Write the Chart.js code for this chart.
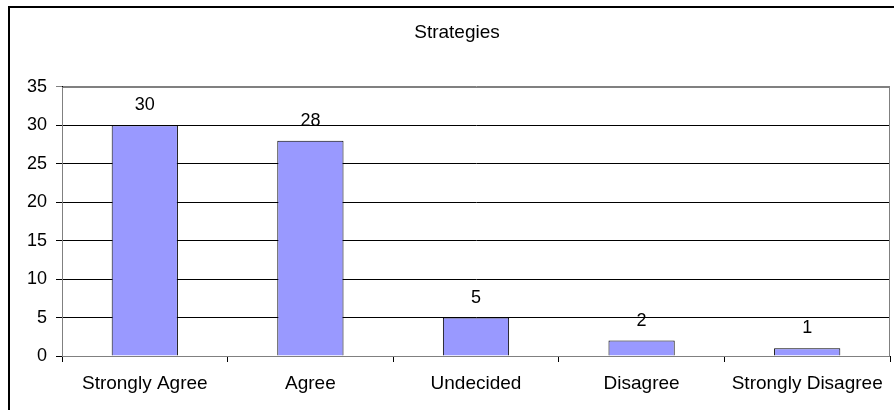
<!DOCTYPE html>
<html>
<head>
<meta charset="utf-8">
<script src="https://cdn.jsdelivr.net/npm/chart.js@4"></script>
<style>
  html, body { margin: 0; padding: 0; background: #fff; overflow: hidden; }
  #wrap { position: relative; width: 894px; height: 410px; overflow: hidden; background: #fff; }
  #frame { position: absolute; left: 8px; top: 6px; width: 1000px; height: 1000px;
           border: 2px solid #000; box-sizing: border-box; pointer-events: none; }
  canvas { position: absolute; left: 0; top: 0; }
</style>
</head>
<body>
<div id="wrap">
  <canvas id="chart" width="894" height="410"></canvas>
  <div id="frame"></div>
</div>
<script>
const categories = ['Strongly Agree', 'Agree', 'Undecided', 'Disagree', 'Strongly Disagree'];
const responses = [30, 28, 5, 2, 1];
const yMax = 35;
const yStep = 5;

const FONT = 'Liberation Sans, Arial, Helvetica, sans-serif';

// Gray outline around the plot area, drawn beneath the bars and axes
const plotFrame = {
  id: 'plotFrame',
  beforeDatasetsDraw(chart) {
    const { ctx, chartArea: a } = chart;
    ctx.save();
    ctx.strokeStyle = '#808080';
    ctx.lineWidth = 1;
    ctx.strokeRect(Math.round(a.left) + 0.5, Math.round(a.top) + 0.5,
                   Math.round(a.right - a.left) - 1, Math.round(a.bottom - a.top));
    ctx.restore();
  }
};

// Value labels above each bar
const valueLabels = {
  id: 'valueLabels',
  afterDatasetsDraw(chart) {
    const { ctx } = chart;
    ctx.save();
    ctx.fillStyle = '#000';
    ctx.font = '18px ' + FONT;
    ctx.textAlign = 'center';
    ctx.textBaseline = 'middle';
    chart.getDatasetMeta(0).data.forEach((bar, i) => {
      ctx.fillText(String(chart.data.datasets[0].data[i]), bar.x, bar.y - 20);
    });
    ctx.restore();
  }
};

new Chart(document.getElementById('chart'), {
  type: 'bar',
  data: {
    labels: categories,
    datasets: [{
      data: responses,
      backgroundColor: '#9999FF',
      borderColor: '#000',
      borderWidth: 1,
      categoryPercentage: 1,
      barPercentage: 0.4
    }]
  },
  options: {
    responsive: false,
    animation: false,
    devicePixelRatio: 1,
    layout: { padding: { left: 24, right: 4, top: 0, bottom: 0 } },
    plugins: {
      legend: { display: false },
      tooltip: { enabled: false },
      title: {
        display: true,
        text: 'Strategies',
        color: '#000',
        font: { family: FONT, size: 19, weight: 'normal' },
        padding: { top: 21, bottom: 43 }
      }
    },
    scales: {
      x: {
        grid: { drawOnChartArea: false, drawTicks: true, tickLength: 6, color: '#000', offset: true },
        border: { color: '#000', width: 1 },
        ticks: { color: '#000', font: { family: FONT, size: 19 }, padding: 10, maxRotation: 0, autoSkip: false },
        afterFit(scale) { scale.height = 54; }
      },
      y: {
        min: 0,
        max: yMax,
        ticks: { stepSize: yStep, color: '#000', font: { family: FONT, size: 18 }, padding: 9 },
        grid: {
          color: ctx => (ctx.tick && ctx.tick.value === yMax ? '#808080' : '#000'),
          tickLength: 6,
          lineWidth: 1
        },
        border: { color: '#000', width: 1 },
        afterFit(scale) { scale.width = 38; }
      }
    }
  },
  plugins: [plotFrame, valueLabels]
});
</script>
</body>
</html>
